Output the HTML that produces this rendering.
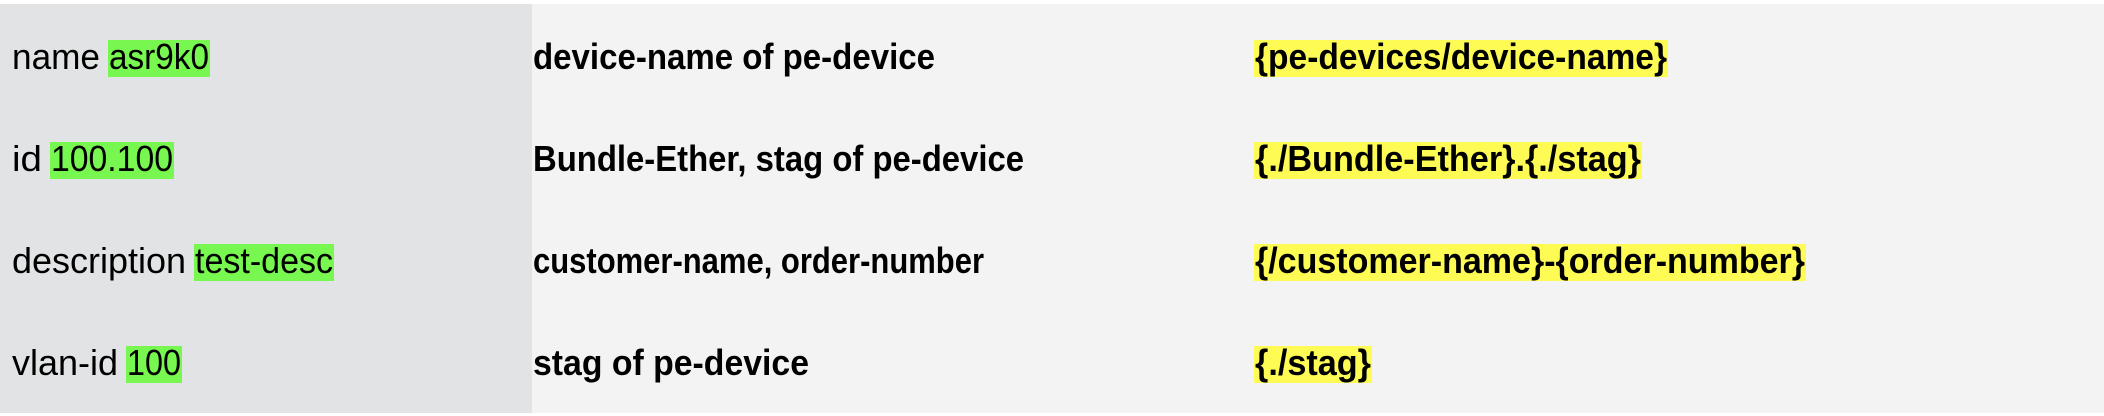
<!DOCTYPE html>
<html><head><meta charset="utf-8"><style>
html,body{margin:0;padding:0;background:#fff;width:2104px;height:416px;overflow:hidden}
svg{display:block}
text{font-family:"Liberation Sans",sans-serif;font-size:36px;fill:#000}
.b{font-weight:bold}
</style></head><body>
<svg width="2104" height="416">
<rect x="0" y="4" width="2104" height="409" fill="#f3f3f3"/>
<rect x="0" y="4" width="532" height="409" fill="#e2e3e4"/>
<g id="rows"></g>
</svg>
<script>
const labels=["name","id","description","vlan-id"];
const labelEnds=[100,42,186,118];
const values=["asr9k0","100.100","test-desc","100"];
const valueSpans=[[108,210],[50,174],[194,334],[126,182]];
const sources=["device-name of pe-device","Bundle-Ether, stag of pe-device","customer-name, order-number","stag of pe-device"];
const sourceEnds=[935,1024,984,809];
const templates=["{pe-devices/device-name}","{./Bundle-Ether}.{./stag}","{/customer-name}-{order-number}","{./stag}"];
const templateEnds=[1668,1642,1806,1372];
const NS="http://www.w3.org/2000/svg";
const g=document.getElementById('rows');
function txt(x,y,w,s,cls,name){
  const t=document.createElementNS(NS,'text');
  t.setAttribute('x',x);t.setAttribute('y',y);
  t.setAttribute('textLength',w);t.setAttribute('lengthAdjust','spacingAndGlyphs');
  if(cls)t.setAttribute('class',cls);
  t.textContent=s;
  
  
  g.appendChild(t);
}
function hl(x,y,w,color,name){
  const r=document.createElementNS(NS,'rect');
  r.setAttribute('x',x);r.setAttribute('y',y);r.setAttribute('width',w);r.setAttribute('height',37);
  r.setAttribute('fill',color);
  
  
  g.appendChild(r);
}
for(let i=0;i<labels.length;i++){
  const top=40+i*102, base=top+29;
  txt(12,base,labelEnds[i]-12,labels[i],'',labels[i]+'-label');
  hl(valueSpans[i][0],top,valueSpans[i][1]-valueSpans[i][0],'#77f74f',labels[i]+'-value-highlight');
  txt(valueSpans[i][0]+1,base,valueSpans[i][1]-valueSpans[i][0]-2,values[i],'',labels[i]+'-value');
  txt(533,base,sourceEnds[i]-533,sources[i],'b',labels[i]+'-source');
  hl(1254,top,templateEnds[i]-1254,'#fefc54',labels[i]+'-template-highlight');
  txt(1255,base,templateEnds[i]-1256,templates[i],'b',labels[i]+'-template');
}
</script>
</body></html>
